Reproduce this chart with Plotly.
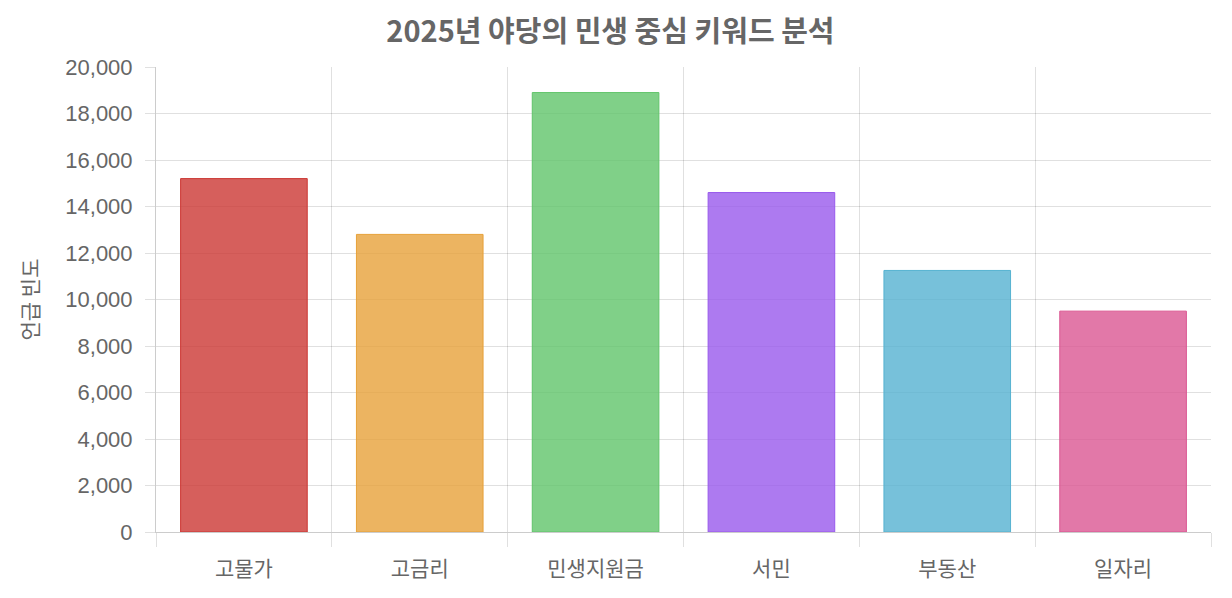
import plotly.graph_objects as go

# keyword mention counts
keywords = ['고물가', '고금리', '민생지원금', '서민', '부동산', '일자리']
mentions = [15200, 12800, 18900, 14600, 11250, 9500]

fill_colors = ['rgba(204,55,51,0.8)', 'rgba(231,161,57,0.8)', 'rgba(96,196,106,0.8)',
               'rgba(152,89,236,0.8)', 'rgba(85,178,209,0.8)', 'rgba(219,86,146,0.8)']
line_colors = ['rgb(204,55,51)', 'rgb(231,161,57)', 'rgb(96,196,106)',
               'rgb(152,89,236)', 'rgb(85,178,209)', 'rgb(219,86,146)']

kr_font = 'Noto Sans CJK KR, sans-serif'
grid = 'rgba(0,0,0,0.12)'

fig = go.Figure()
fig.add_trace(go.Bar(x=keywords, y=mentions,
                     marker=dict(color=fill_colors, line=dict(color=line_colors, width=1)),
                     hoverinfo='x+y'))

# page body has an 8px margin, so margins are shifted by that
fig.update_layout(
    width=1232, height=598,
    margin=dict(l=148, r=29, t=59, b=74),
    plot_bgcolor='white', paper_bgcolor='white',
    bargap=0.28,
    showlegend=False,
    title=dict(text='<b>2025년 야당의 민생 중심 키워드 분석</b>', x=0.489, xanchor='center',
               y=0.96, yanchor='middle',
               font=dict(family=kr_font, size=29, color='#666')),
    font=dict(family='Liberation Sans, Noto Sans CJK KR, sans-serif', color='#666', size=18),
)
fig.update_xaxes(type='category', tickson='boundaries', showgrid=True, gridcolor=grid, gridwidth=1,
                 ticks='outside', ticklen=14, tickcolor=grid, ticklabelstandoff=18,
                 showline=True, linecolor='rgba(0,0,0,0.2)', linewidth=1,
                 tickfont=dict(family=kr_font, size=21, color='#666'))
fig.update_yaxes(range=[0, 20000], dtick=2000, tickformat=',', showgrid=True, gridcolor=grid,
                 gridwidth=1, ticks='outside', ticklen=10, tickcolor=grid, ticklabelstandoff=8,
                 showline=True, linecolor='rgba(0,0,0,0.2)', linewidth=1, zeroline=False,
                 tickfont=dict(size=22, color='#666'),
                 title=dict(text='언급 빈도', standoff=20,
                            font=dict(family=kr_font, size=21, color='#666')))

fig.write_html('out.html')
